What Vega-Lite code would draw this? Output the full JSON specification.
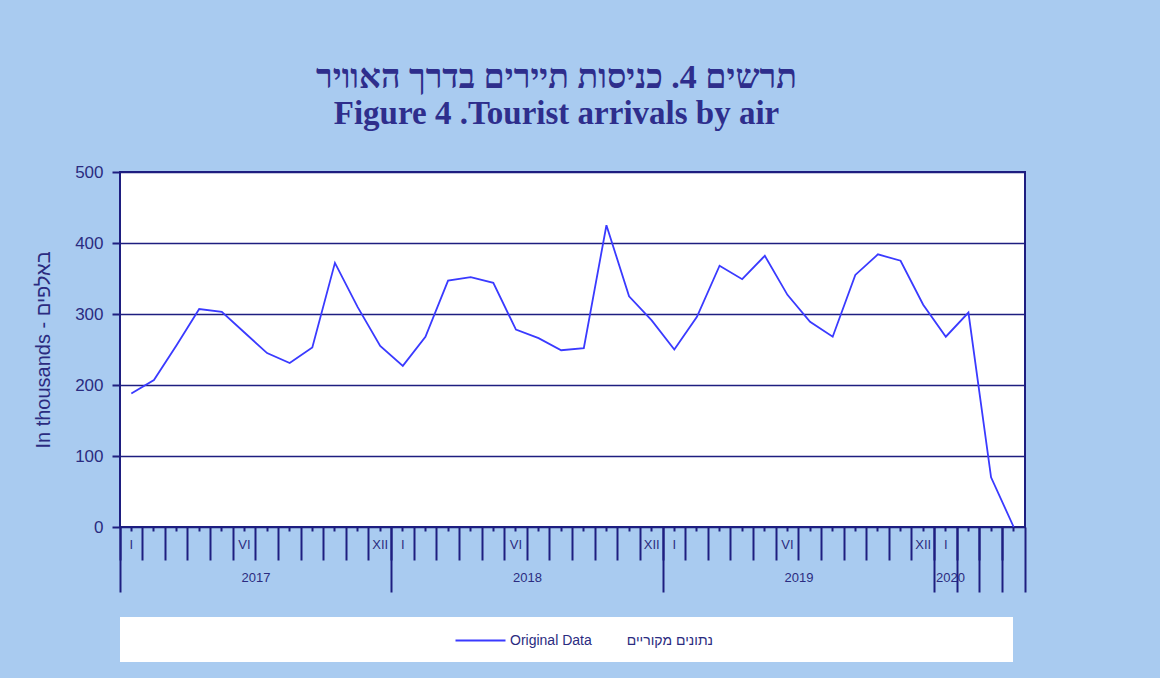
{
  "$schema": "https://vega.github.io/schema/vega-lite/v6.json",
  "width": 905,
  "height": 355,
  "autosize": {"type": "none"},
  "padding": {"left": 120, "top": 172, "right": 135, "bottom": 151},
  "background": "#A9CBF0",
  "title": {
    "text": "תרשים 4. כניסות תיירים  בדרך האוויר",
    "subtitle": "Figure 4 .Tourist arrivals by air",
    "font": "Liberation Serif",
    "fontSize": 34,
    "fontWeight": "bold",
    "color": "#2E2E8C",
    "subtitleFont": "Liberation Serif",
    "subtitleFontSize": 33,
    "subtitleFontWeight": "bold",
    "subtitleColor": "#2E2E8C",
    "subtitlePadding": 3,
    "anchor": "middle",
    "frame": "group",
    "offset": 32,
    "dx": -16
  },
  "config": {
    "view": {"fill": "white", "stroke": "#1E1E80", "strokeWidth": 2},
    "axis": {"labelFont": "Liberation Sans", "titleFont": "Liberation Sans", "labelColor": "#2B2B80", "titleColor": "#2B2B80", "tickColor": "#1E1E80", "domainColor": "#1E1E80"}
  },
  "data": {
    "values": [
      {"month": "2017-01", "value": 188, "series": "Original Data\u00a0\u00a0\u00a0\u00a0\u00a0\u00a0\u00a0\u00a0\u00a0נתונים מקוריים"},
      {"month": "2017-02", "value": 207, "series": "Original Data\u00a0\u00a0\u00a0\u00a0\u00a0\u00a0\u00a0\u00a0\u00a0נתונים מקוריים"},
      {"month": "2017-03", "value": 256, "series": "Original Data\u00a0\u00a0\u00a0\u00a0\u00a0\u00a0\u00a0\u00a0\u00a0נתונים מקוריים"},
      {"month": "2017-04", "value": 307, "series": "Original Data\u00a0\u00a0\u00a0\u00a0\u00a0\u00a0\u00a0\u00a0\u00a0נתונים מקוריים"},
      {"month": "2017-05", "value": 303, "series": "Original Data\u00a0\u00a0\u00a0\u00a0\u00a0\u00a0\u00a0\u00a0\u00a0נתונים מקוריים"},
      {"month": "2017-06", "value": 274, "series": "Original Data\u00a0\u00a0\u00a0\u00a0\u00a0\u00a0\u00a0\u00a0\u00a0נתונים מקוריים"},
      {"month": "2017-07", "value": 245, "series": "Original Data\u00a0\u00a0\u00a0\u00a0\u00a0\u00a0\u00a0\u00a0\u00a0נתונים מקוריים"},
      {"month": "2017-08", "value": 231, "series": "Original Data\u00a0\u00a0\u00a0\u00a0\u00a0\u00a0\u00a0\u00a0\u00a0נתונים מקוריים"},
      {"month": "2017-09", "value": 253, "series": "Original Data\u00a0\u00a0\u00a0\u00a0\u00a0\u00a0\u00a0\u00a0\u00a0נתונים מקוריים"},
      {"month": "2017-10", "value": 372, "series": "Original Data\u00a0\u00a0\u00a0\u00a0\u00a0\u00a0\u00a0\u00a0\u00a0נתונים מקוריים"},
      {"month": "2017-11", "value": 310, "series": "Original Data\u00a0\u00a0\u00a0\u00a0\u00a0\u00a0\u00a0\u00a0\u00a0נתונים מקוריים"},
      {"month": "2017-12", "value": 255, "series": "Original Data\u00a0\u00a0\u00a0\u00a0\u00a0\u00a0\u00a0\u00a0\u00a0נתונים מקוריים"},
      {"month": "2018-01", "value": 227, "series": "Original Data\u00a0\u00a0\u00a0\u00a0\u00a0\u00a0\u00a0\u00a0\u00a0נתונים מקוריים"},
      {"month": "2018-02", "value": 268, "series": "Original Data\u00a0\u00a0\u00a0\u00a0\u00a0\u00a0\u00a0\u00a0\u00a0נתונים מקוריים"},
      {"month": "2018-03", "value": 347, "series": "Original Data\u00a0\u00a0\u00a0\u00a0\u00a0\u00a0\u00a0\u00a0\u00a0נתונים מקוריים"},
      {"month": "2018-04", "value": 352, "series": "Original Data\u00a0\u00a0\u00a0\u00a0\u00a0\u00a0\u00a0\u00a0\u00a0נתונים מקוריים"},
      {"month": "2018-05", "value": 344, "series": "Original Data\u00a0\u00a0\u00a0\u00a0\u00a0\u00a0\u00a0\u00a0\u00a0נתונים מקוריים"},
      {"month": "2018-06", "value": 278, "series": "Original Data\u00a0\u00a0\u00a0\u00a0\u00a0\u00a0\u00a0\u00a0\u00a0נתונים מקוריים"},
      {"month": "2018-07", "value": 266, "series": "Original Data\u00a0\u00a0\u00a0\u00a0\u00a0\u00a0\u00a0\u00a0\u00a0נתונים מקוריים"},
      {"month": "2018-08", "value": 249, "series": "Original Data\u00a0\u00a0\u00a0\u00a0\u00a0\u00a0\u00a0\u00a0\u00a0נתונים מקוריים"},
      {"month": "2018-09", "value": 252, "series": "Original Data\u00a0\u00a0\u00a0\u00a0\u00a0\u00a0\u00a0\u00a0\u00a0נתונים מקוריים"},
      {"month": "2018-10", "value": 425, "series": "Original Data\u00a0\u00a0\u00a0\u00a0\u00a0\u00a0\u00a0\u00a0\u00a0נתונים מקוריים"},
      {"month": "2018-11", "value": 325, "series": "Original Data\u00a0\u00a0\u00a0\u00a0\u00a0\u00a0\u00a0\u00a0\u00a0נתונים מקוריים"},
      {"month": "2018-12", "value": 291, "series": "Original Data\u00a0\u00a0\u00a0\u00a0\u00a0\u00a0\u00a0\u00a0\u00a0נתונים מקוריים"},
      {"month": "2019-01", "value": 250, "series": "Original Data\u00a0\u00a0\u00a0\u00a0\u00a0\u00a0\u00a0\u00a0\u00a0נתונים מקוריים"},
      {"month": "2019-02", "value": 296, "series": "Original Data\u00a0\u00a0\u00a0\u00a0\u00a0\u00a0\u00a0\u00a0\u00a0נתונים מקוריים"},
      {"month": "2019-03", "value": 368, "series": "Original Data\u00a0\u00a0\u00a0\u00a0\u00a0\u00a0\u00a0\u00a0\u00a0נתונים מקוריים"},
      {"month": "2019-04", "value": 349, "series": "Original Data\u00a0\u00a0\u00a0\u00a0\u00a0\u00a0\u00a0\u00a0\u00a0נתונים מקוריים"},
      {"month": "2019-05", "value": 382, "series": "Original Data\u00a0\u00a0\u00a0\u00a0\u00a0\u00a0\u00a0\u00a0\u00a0נתונים מקוריים"},
      {"month": "2019-06", "value": 327, "series": "Original Data\u00a0\u00a0\u00a0\u00a0\u00a0\u00a0\u00a0\u00a0\u00a0נתונים מקוריים"},
      {"month": "2019-07", "value": 289, "series": "Original Data\u00a0\u00a0\u00a0\u00a0\u00a0\u00a0\u00a0\u00a0\u00a0נתונים מקוריים"},
      {"month": "2019-08", "value": 268, "series": "Original Data\u00a0\u00a0\u00a0\u00a0\u00a0\u00a0\u00a0\u00a0\u00a0נתונים מקוריים"},
      {"month": "2019-09", "value": 355, "series": "Original Data\u00a0\u00a0\u00a0\u00a0\u00a0\u00a0\u00a0\u00a0\u00a0נתונים מקוריים"},
      {"month": "2019-10", "value": 384, "series": "Original Data\u00a0\u00a0\u00a0\u00a0\u00a0\u00a0\u00a0\u00a0\u00a0נתונים מקוריים"},
      {"month": "2019-11", "value": 375, "series": "Original Data\u00a0\u00a0\u00a0\u00a0\u00a0\u00a0\u00a0\u00a0\u00a0נתונים מקוריים"},
      {"month": "2019-12", "value": 313, "series": "Original Data\u00a0\u00a0\u00a0\u00a0\u00a0\u00a0\u00a0\u00a0\u00a0נתונים מקוריים"},
      {"month": "2020-01", "value": 268, "series": "Original Data\u00a0\u00a0\u00a0\u00a0\u00a0\u00a0\u00a0\u00a0\u00a0נתונים מקוריים"},
      {"month": "2020-02", "value": 302, "series": "Original Data\u00a0\u00a0\u00a0\u00a0\u00a0\u00a0\u00a0\u00a0\u00a0נתונים מקוריים"},
      {"month": "2020-03", "value": 70, "series": "Original Data\u00a0\u00a0\u00a0\u00a0\u00a0\u00a0\u00a0\u00a0\u00a0נתונים מקוריים"},
      {"month": "2020-04", "value": 0, "series": "Original Data\u00a0\u00a0\u00a0\u00a0\u00a0\u00a0\u00a0\u00a0\u00a0נתונים מקוריים"}
    ]
  },
  "resolve": {"axis": {"x": "independent"}},
  "layer": [
    {
      "mark": {"type": "line", "strokeWidth": 1.8},
      "encoding": {
        "x": {
          "field": "month", "type": "ordinal",
          "scale": {"type": "band", "paddingInner": 0, "paddingOuter": 0},
          "axis": {"orient": "bottom", "bandPosition": 0, "labels": false, "domain": false, "grid": false, "ticks": true, "tickSize": 33, "tickWidth": 2, "title": null}
        },
        "y": {
          "field": "value", "type": "quantitative",
          "scale": {"domain": [0, 500], "nice": false},
          "axis": {
            "values": [0, 100, 200, 300, 400, 500],
            "grid": true, "gridColor": "#1E1E80", "gridWidth": 1.6, "gridOpacity": 1,
            "domain": false, "tickSize": 8, "tickWidth": 2,
            "labelFontSize": 17, "labelPadding": 9,
            "title": "In thousands - באלפים", "titleFontSize": 20, "titleFontWeight": "normal", "titlePadding": 21
          }
        },
        "color": {
          "field": "series", "type": "nominal",
          "scale": {"range": ["#3A3AFF"]},
          "legend": {
            "orient": "none", "legendX": 0, "legendY": 445,
            "title": " ", "titleOrient": "right", "titlePadding": 290, "titleFontSize": 30,
            "fillColor": "white", "padding": 10,
            "symbolType": "M-2,0H2", "symbolSize": 625, "symbolStrokeWidth": 2,
            "labelFont": "Liberation Sans", "labelFontSize": 14, "labelColor": "#2B2B80", "labelLimit": 400,
            "symbolOffset": 337, "labelOffset": 16
          }
        }
      }
    },
    {
      "mark": {"type": "point", "opacity": 0},
      "encoding": {
        "x": {
          "field": "month", "type": "ordinal",
          "scale": {"type": "band", "paddingInner": 0, "paddingOuter": 0},
          "axis": {"orient": "bottom", "bandPosition": 0.5, "labels": true, "domain": false, "grid": false, "ticks": true, "tickSize": 4, "tickWidth": 2, "title": null,
            "labelAngle": 0, "labelOverlap": false, "labelFontSize": 13, "labelPadding": 7,
            "labelExpr": "slice(datum.value,5)=='01' ? 'I' : slice(datum.value,5)=='06' ? 'VI' : slice(datum.value,5)=='12' ? 'XII' : ''"}
        }
      }
    },
    {
      "mark": {"type": "point", "opacity": 0},
      "encoding": {
        "x": {
          "field": "month", "type": "ordinal",
          "scale": {"type": "band", "paddingInner": 0, "paddingOuter": 0},
          "axis": {"orient": "bottom", "bandPosition": 0, "values": ["2017-07", "2018-07", "2019-07"], "labels": true, "domain": false, "grid": false, "ticks": false, "tickSize": 0, "title": null,
            "labelAngle": 0, "labelOverlap": false, "labelFontSize": 13, "labelPadding": 44, "labelOffset": -11,
            "labelExpr": "slice(datum.value,0,4)"}
        }
      }
    },
    {
      "mark": {"type": "point", "opacity": 0},
      "encoding": {
        "x": {
          "field": "month", "type": "ordinal",
          "scale": {"type": "band", "paddingInner": 0, "paddingOuter": 0},
          "axis": {"orient": "bottom", "bandPosition": 0, "values": ["2020-02"], "labels": true, "domain": false, "grid": false, "ticks": false, "tickSize": 0, "title": null,
            "labelAngle": 0, "labelOverlap": false, "labelFontSize": 13, "labelPadding": 44, "labelOffset": -18,
            "labelExpr": "slice(datum.value,0,4)"}
        }
      }
    },
    {
      "mark": {"type": "point", "opacity": 0},
      "encoding": {
        "x": {
          "field": "month", "type": "ordinal",
          "scale": {"type": "band", "paddingInner": 0, "paddingOuter": 0},
          "axis": {"orient": "bottom", "bandPosition": 0, "values": ["2017-01", "2018-01", "2019-01", "2020-01", "2020-02", "2020-03", "2020-04"], "labels": false, "domain": false, "grid": false, "ticks": true, "tickSize": 65, "tickWidth": 2, "title": null}
        }
      }
    },
    {
      "mark": {"type": "point", "opacity": 0},
      "encoding": {
        "x": {
          "field": "month", "type": "ordinal",
          "scale": {"type": "band", "paddingInner": 0, "paddingOuter": 0},
          "axis": {"orient": "bottom", "bandPosition": 1, "values": ["2020-04"], "labels": false, "domain": false, "grid": false, "ticks": true, "tickSize": 65, "tickWidth": 2, "title": null}
        }
      }
    }
  ]
}
